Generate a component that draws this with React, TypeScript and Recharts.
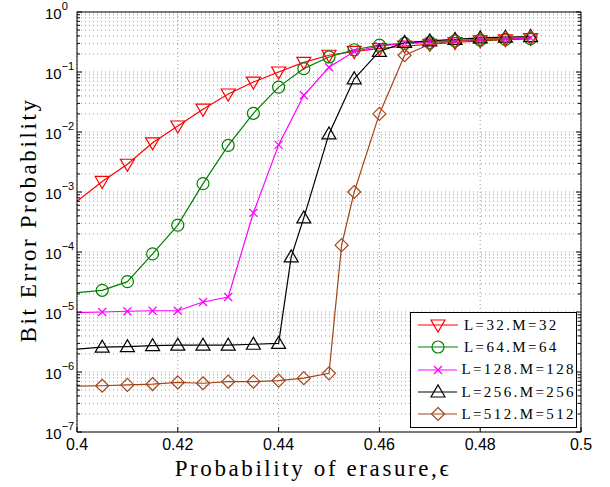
import { CartesianGrid, Legend, Line, LineChart, XAxis, YAxis } from "recharts"

// probability of erasure
const epsilon = [0.4, 0.405, 0.41, 0.415, 0.42, 0.425, 0.43, 0.435, 0.44, 0.445, 0.45, 0.455, 0.46, 0.465, 0.47, 0.475, 0.48, 0.485, 0.49]
const epsilon256 = [0.4, 0.405, 0.41, 0.415, 0.42, 0.425, 0.43, 0.435, 0.44, 0.4425, 0.445, 0.45, 0.455, 0.46, 0.465, 0.47, 0.475, 0.48, 0.485, 0.49]
const epsilon512 = [0.4, 0.405, 0.41, 0.415, 0.42, 0.425, 0.43, 0.435, 0.44, 0.445, 0.45, 0.4525, 0.455, 0.46, 0.465, 0.47, 0.475, 0.48, 0.485, 0.49]

// bit error probability
const ber32 = [7e-4, 1.5e-3, 2.9e-3, 6.6e-3, 1.26e-2, 2.4e-2, 4.3e-2, 6.8e-2, 0.1, 0.145, 0.19, 0.22, 0.245, 0.27, 0.29, 0.31, 0.33, 0.345, 0.36]
const ber64 = [2.1e-5, 2.3e-5, 3.2e-5, 9.3e-5, 2.8e-4, 1.38e-3, 6e-3, 2.05e-2, 5.6e-2, 0.114, 0.178, 0.235, 0.28, 0.3, 0.31, 0.33, 0.34, 0.35, 0.36]
const ber128 = [9.8e-6, 1e-5, 1.03e-5, 1.05e-5, 1.05e-5, 1.47e-5, 1.78e-5, 4.5e-4, 6.1e-3, 4.1e-2, 0.12, 0.22, 0.27, 0.3, 0.32, 0.33, 0.345, 0.355, 0.37]
const ber256 = [2.4e-6, 2.6e-6, 2.65e-6, 2.75e-6, 2.8e-6, 2.8e-6, 2.8e-6, 2.9e-6, 3e-6, 8.3e-5, 3.7e-4, 9.3e-3, 7.7e-2, 0.22, 0.31, 0.33, 0.35, 0.37, 0.38, 0.39]
const ber512 = [5.8e-7, 5.9e-7, 6.1e-7, 6.3e-7, 6.7e-7, 6.5e-7, 6.9e-7, 6.9e-7, 7.2e-7, 7.9e-7, 9.5e-7, 1.3e-4, 1e-3, 2e-2, 0.19, 0.29, 0.33, 0.35, 0.37, 0.38]

const xTicks = [0.4, 0.42, 0.44, 0.46, 0.48, 0.5]
const yDecades = [-7, -6, -5, -4, -3, -2, -1, 0]
const yTicks = yDecades.flatMap((d) => [1, 2, 3, 4, 5, 6, 7, 8, 9].map((m) => m * Math.pow(10, d))).filter((v) => v <= 1.0000001)

const toPoints = (xs: number[], ys: number[]) => xs.map((eps, i) => ({ eps, ber: ys[i] }))

const series = [
  { name: "L=32.M=32", color: "#ff0000", marker: "triDown", data: toPoints(epsilon, ber32) },
  { name: "L=64.M=64", color: "#008000", marker: "circle", data: toPoints(epsilon, ber64) },
  { name: "L=128.M=128", color: "#ff00ff", marker: "cross", data: toPoints(epsilon, ber128) },
  { name: "L=256.M=256", color: "#000000", marker: "triUp", data: toPoints(epsilon256, ber256) },
  { name: "L=512.M=512", color: "#a2461a", marker: "diamond", data: toPoints(epsilon512, ber512) },
]

const SANS = "'Liberation Sans', Arial, sans-serif"
const SERIF = "'Liberation Serif', 'Times New Roman', serif"

function Marker({ kind, cx, cy, color }: { kind: string; cx: number; cy: number; color: string }) {
  const common = { fill: "none", stroke: color, strokeWidth: 1.2 }
  if (kind === "triDown")
    return <polygon points={`${cx - 7},${cy - 5} ${cx + 7},${cy - 5} ${cx},${cy + 7}`} {...common} />
  if (kind === "triUp")
    return <polygon points={`${cx - 7},${cy + 5} ${cx + 7},${cy + 5} ${cx},${cy - 7}`} {...common} />
  if (kind === "circle") return <circle cx={cx} cy={cy} r={6} {...common} />
  if (kind === "diamond")
    return <polygon points={`${cx},${cy - 6.5} ${cx + 6.5},${cy} ${cx},${cy + 6.5} ${cx - 6.5},${cy}`} {...common} />
  return (
    <g {...common}>
      <line x1={cx - 4} y1={cy - 4} x2={cx + 4} y2={cy + 4} />
      <line x1={cx - 4} y1={cy + 4} x2={cx + 4} y2={cy - 4} />
    </g>
  )
}

const isDecade = (v: number) => Math.abs(Math.log10(v) - Math.round(Math.log10(v))) < 1e-6

function LeftTick(props: any) {
  const { x, y, payload } = props
  const major = isDecade(payload.value)
  const exp = Math.round(Math.log10(payload.value))
  return (
    <g>
      <line x1={x} y1={y} x2={x + (major ? 5 : 3)} y2={y} stroke="#000" />
      {major && (
        <text x={x - 32} y={y + 7} fontFamily={SANS} fontSize={15} fill="#000">
          10
          <tspan dy={-9} fontSize={11}>
            {exp < 0 ? `\u2212${-exp}` : `${exp}`}
          </tspan>
        </text>
      )}
    </g>
  )
}

function RightTick(props: any) {
  const { x, y, payload } = props
  const major = isDecade(payload.value)
  return <line x1={x} y1={y} x2={x - (major ? 5 : 3)} y2={y} stroke="#000" />
}

function BottomTick(props: any) {
  const { x, y, payload } = props
  return (
    <g>
      <line x1={x} y1={y} x2={x} y2={y - 5} stroke="#000" />
      <text x={x} y={y + 18} textAnchor="middle" fontFamily={SANS} fontSize={16} fill="#000">
        {payload.value}
      </text>
    </g>
  )
}

function TopTick(props: any) {
  const { x, y } = props
  return <line x1={x} y1={y} x2={x} y2={y + 5} stroke="#000" />
}

function XLabel(props: any) {
  const { viewBox } = props
  return (
    <text
      x={viewBox.x + viewBox.width / 2 - 16}
      y={viewBox.y + 44}
      textAnchor="middle"
      fontFamily={SERIF}
      fontSize={23}
      letterSpacing={2.6}
      fill="#000"
    >
      Probability of erasure,ϵ
    </text>
  )
}

function YLabel(props: any) {
  const { viewBox } = props
  const cx = 36
  const cy = viewBox.y + viewBox.height / 2 - 2
  return (
    <text
      x={cx}
      y={cy}
      transform={`rotate(-90, ${cx}, ${cy})`}
      textAnchor="middle"
      fontFamily={SERIF}
      fontSize={23}
      letterSpacing={2.6}
      fill="#000"
    >
      Bit Error Probability
    </text>
  )
}

function LegendBox() {
  return (
    <div
      style={{
        boxSizing: "border-box",
        width: 167,
        height: 116,
        border: "1px solid #000",
        background: "#fff",
        paddingTop: 1,
        paddingLeft: 7,
      }}
    >
      {series.map((s) => (
        <div key={s.name} style={{ display: "flex", alignItems: "center", height: 22.3 }}>
          <svg width={42} height={20} style={{ display: "block" }}>
            <line x1={0} y1={10} x2={40} y2={10} stroke={s.color} strokeWidth={1.2} />
            <Marker kind={s.marker} cx={20} cy={10} color={s.color} />
          </svg>
          <span style={{ marginLeft: 4, fontFamily: SERIF, fontSize: 15, letterSpacing: 2.4, color: "#000" }}>
            {s.name}
          </span>
        </div>
      ))}
    </div>
  )
}

export default function App() {
  return (
    <div style={{ position: "absolute", left: 0, top: 0, background: "#fff" }}>
      <LineChart width={610} height={487} margin={{ top: 11, right: 28, bottom: 0, left: 0 }}>
        <CartesianGrid stroke="#999" strokeDasharray="1 3" />
        <XAxis
          dataKey="eps"
          type="number"
          domain={[0.4, 0.5]}
          ticks={xTicks}
          allowDataOverflow
          height={55}
          tickSize={0}
          tickMargin={0}
          tickLine={false}
          axisLine={{ stroke: "#000" }}
          tick={<BottomTick />}
          interval={0}
          label={<XLabel />}
        />
        <XAxis
          xAxisId="top"
          orientation="top"
          type="number"
          domain={[0.4, 0.5]}
          ticks={xTicks}
          allowDataOverflow
          height={1}
          tickSize={0}
          tickMargin={0}
          tickLine={false}
          axisLine={{ stroke: "#000" }}
          tick={<TopTick />}
          interval={0}
        />
        <YAxis
          type="number"
          scale="log"
          domain={[1e-7, 1]}
          ticks={yTicks}
          allowDataOverflow
          width={77}
          tickSize={0}
          tickMargin={0}
          tickLine={false}
          axisLine={{ stroke: "#000" }}
          tick={<LeftTick />}
          interval={0}
          label={<YLabel />}
        />
        <YAxis
          yAxisId="right"
          orientation="right"
          type="number"
          scale="log"
          domain={[1e-7, 1]}
          ticks={yTicks}
          allowDataOverflow
          width={1}
          tickSize={0}
          tickMargin={0}
          tickLine={false}
          axisLine={{ stroke: "#000" }}
          tick={<RightTick />}
          interval={0}
        />
        {series.map((s) => (
          <Line
            key={s.name}
            data={s.data}
            dataKey="ber"
            name={s.name}
            stroke={s.color}
            strokeWidth={1.2}
            isAnimationActive={false}
            dot={(p: any) =>
              p.payload.eps <= 0.4 ? (
                <g key={p.index} />
              ) : (
                <g key={p.index}>
                  <Marker kind={s.marker} cx={p.cx} cy={p.cy} color={s.color} />
                </g>
              )
            }
          />
        ))}
        <Legend
          layout="horizontal"
          align="center"
          verticalAlign="middle"
          content={<LegendBox />}
          wrapperStyle={{ left: 410, top: 312, right: "auto", bottom: "auto", width: 167, height: 116 }}
        />
      </LineChart>
    </div>
  )
}
